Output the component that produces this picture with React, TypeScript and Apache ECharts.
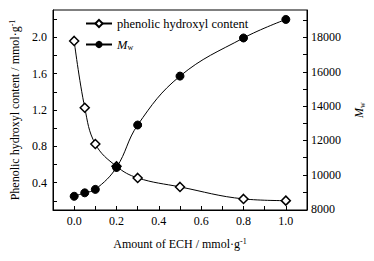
import React, { useEffect, useRef } from "react";
import * as echarts from "echarts";

const xValues = [0, 0.05, 0.1, 0.2, 0.3, 0.5, 0.8, 1.0];
const phenolic = [1.96, 1.225, 0.826, 0.58, 0.453, 0.354, 0.222, 0.203];
const mw = [8750, 8950, 9150, 10430, 12900, 15750, 17970, 19050];
const xLabelValues = [0, 0.2, 0.4, 0.6, 0.8, 1.0];
const xTickValues = [0, 0.1, 0.2, 0.3, 0.4, 0.5, 0.6, 0.7, 0.8, 0.9, 1.0];
const leftLabelValues = [0.4, 0.8, 1.2, 1.6, 2.0];
const leftTickValues = [0.2, 0.4, 0.6, 0.8, 1.0, 1.2, 1.4, 1.6, 1.8, 2.0, 2.2];
const rightLabelValues = [8000, 10000, 12000, 14000, 16000, 18000];
const rightTickValues = [9000, 10000, 11000, 12000, 13000, 14000, 15000, 16000, 17000, 18000, 19000];

const FONT = "Liberation Serif";

export default function App() {
  const ref = useRef<HTMLDivElement>(null);
  useEffect(() => {
    document.body.style.margin = "0";
    const chart = echarts.init(ref.current!, null, { renderer: "svg" });
    const axisCommon = {
      axisLine: { show: true, onZero: false, lineStyle: { color: "#000", width: 1 } },
      splitLine: { show: false },
    };
    chart.setOption({
      animation: false,
      backgroundColor: "#fff",
      textStyle: { fontFamily: FONT, color: "#000" },
      grid: {
        left: 53,
        right: 62,
        top: 10,
        bottom: 51,
        show: true,
        borderColor: "#000",
        borderWidth: 1,
      },
      legend: {
        orient: "vertical",
        left: 80,
        top: 12,
        itemWidth: 26,
        itemHeight: 9,
        itemGap: 8,
        data: ["phenolic hydroxyl content", "Mw"],
        formatter: (name: string) => (name === "Mw" ? "{i|M}{s|w}" : name),
        textStyle: {
          fontFamily: FONT,
          fontSize: 12.5,
          color: "#000",
          rich: {
            i: { fontFamily: FONT, fontSize: 12.5, fontStyle: "italic", color: "#000" },
            s: { fontFamily: FONT, fontSize: 8, color: "#000", verticalAlign: "bottom", padding: [6, 0, 0, 0] },
          },
        },
      },
      xAxis: {
        type: "value",
        min: -0.1,
        max: 1.1,
        ...axisCommon,
        name: "{a|Amount of ECH / mmol·g}{s|-1}",
        nameLocation: "middle",
        nameGap: 27,
        nameTextStyle: {
          rich: {
            a: { fontFamily: FONT, fontSize: 12, color: "#000" },
            s: { fontFamily: FONT, fontSize: 8, color: "#000", verticalAlign: "top", padding: [0, 0, 6, 0] },
          },
        },
        axisTick: { show: true, inside: true, length: 4, customValues: xTickValues, lineStyle: { color: "#000" } },
        axisLabel: {
          customValues: xLabelValues,
          formatter: (v: number) => v.toFixed(1),
          fontFamily: FONT,
          fontSize: 12,
          color: "#000",
          margin: 5,
        },
      },
      yAxis: [
        {
          type: "value",
          position: "left",
          min: 0.1,
          max: 2.3,
          ...axisCommon,
          name: "{a|Phenolic hydroxyl content / mmol·g}{s|-1}",
          nameLocation: "middle",
          nameGap: 31,
          nameTextStyle: {
            rich: {
              a: { fontFamily: FONT, fontSize: 12, color: "#000" },
              s: { fontFamily: FONT, fontSize: 8, color: "#000", verticalAlign: "top", padding: [0, 0, 6, 0] },
            },
          },
          axisTick: { show: true, inside: true, length: 4, customValues: leftTickValues, lineStyle: { color: "#000" } },
          axisLabel: {
            customValues: leftLabelValues,
            formatter: (v: number) => v.toFixed(1),
            fontFamily: FONT,
            fontSize: 12,
            color: "#000",
            margin: 6,
          },
        },
        {
          type: "value",
          position: "right",
          min: 7950,
          max: 19600,
          ...axisCommon,
          name: "{i|M}{s|w}",
          nameLocation: "middle",
          nameGap: 45,
          nameTextStyle: {
            rich: {
              i: { fontFamily: FONT, fontSize: 12, fontStyle: "italic", color: "#000" },
              s: { fontFamily: FONT, fontSize: 8, color: "#000", verticalAlign: "bottom", padding: [6, 0, 0, 0] },
            },
          },
          axisTick: { show: true, inside: true, length: 4, customValues: rightTickValues, lineStyle: { color: "#000" } },
          axisLabel: {
            customValues: rightLabelValues,
            formatter: (v: number) => String(Math.round(v)),
            fontFamily: FONT,
            fontSize: 12,
            color: "#000",
            margin: 4,
          },
        },
      ],
      series: [
        {
          name: "phenolic hydroxyl content",
          type: "line",
          yAxisIndex: 0,
          smooth: 0.4,
          symbol: "diamond",
          symbolSize: [9, 9],
          data: xValues.map((x, i) => [x, phenolic[i]]),
          lineStyle: { color: "#000", width: 1 },
          itemStyle: { color: "#fff", borderColor: "#000", borderWidth: 1.5 },
          z: 2,
        },
        {
          name: "Mw",
          type: "line",
          yAxisIndex: 1,
          smooth: 0.4,
          symbol: "circle",
          symbolSize: 8,
          data: xValues.map((x, i) => [x, mw[i]]),
          lineStyle: { color: "#000", width: 1 },
          itemStyle: { color: "#000", borderColor: "#000" },
          z: 3,
        },
      ],
    });
    return () => chart.dispose();
  }, []);
  return <div ref={ref} style={{ width: 374, height: 261 }} />;
}
